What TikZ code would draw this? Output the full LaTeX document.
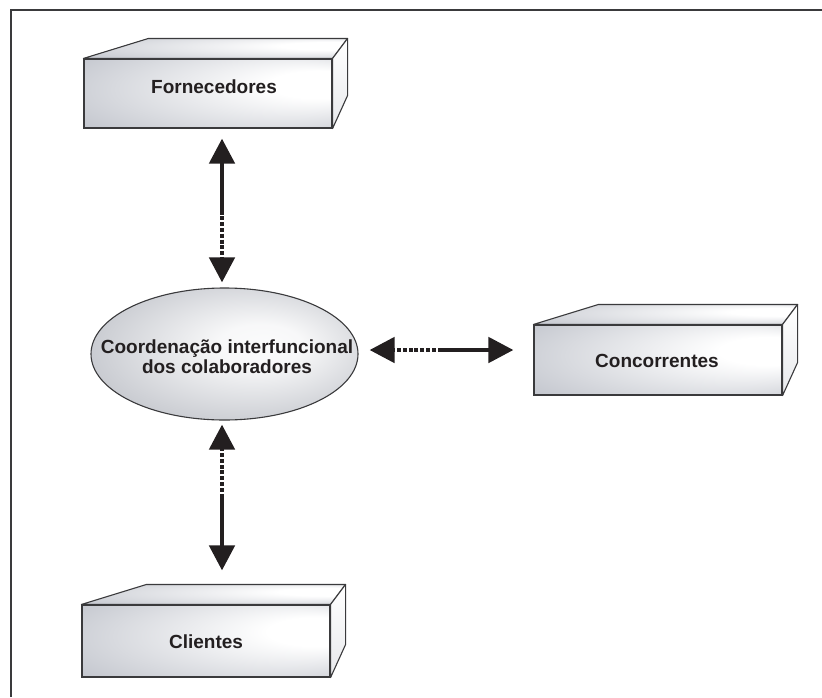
\documentclass[tikz,border=0pt]{standalone}
\usepackage{fontspec}
\setmainfont{Liberation Sans}
\usetikzlibrary{arrows.meta,shapes.geometric,calc}

\definecolor{ink}{HTML}{231F20}
\definecolor{edge}{HTML}{3A3A3C}
\definecolor{boxgray}{RGB}{176,180,190}
\definecolor{ellgray}{RGB}{160,164,174}

% light falling from the right onto the slab faces
\pgfdeclareradialshading{facelit}{\pgfpoint{28bp}{8bp}}{%
  color(0bp)=(white); color(10bp)=(white);
  color(30bp)=(boxgray!50!white); color(50bp)=(boxgray)}
% soft highlight in the middle of the ellipse
\pgfdeclareradialshading{ellipselit}{\pgfpoint{8bp}{4bp}}{%
  color(0bp)=(white!96!ellgray); color(8bp)=(white!92!ellgray);
  color(28bp)=(ellgray!55!white); color(50bp)=(ellgray)}

\tikzset{
  frameline/.style={draw=edge, line width=1.2pt},
  slabface/.style={rectangle, draw=edge, line width=1.1pt, shade, shading=facelit,
    minimum width=248pt, inner sep=0pt},
  slabtop/.style={draw=edge, line width=1.1pt, shade, shading=facelit, line join=round},
  slabside/.style={draw=edge, line width=1.1pt, top color=white, bottom color=boxgray!30!white,
    line join=round},
  hub/.style={ellipse, draw=edge, line width=1.1pt, shade, shading=ellipselit,
    minimum width=267pt, minimum height=132pt, inner sep=0pt},
  labeltext/.style={text=ink, font=\fontsize{19}{20}\selectfont\bfseries, inner sep=0pt,
    align=center},
  solidlink/.style={draw=ink, line width=4.7pt, -{Triangle[width=25pt,length=25pt]}},
  dottedlink/.style={solidlink, dash pattern=on 4pt off 1.8pt},
}

% a slab drawn in perspective: front face node, top face and right side face
\newcommand{\slab}[3]{% name, front-face centre, front-face height
  \node[slabface, minimum height=#3] (#1) at (#2) {};
  \shade[slabtop] (#1.north west) -- ++(65,-20) -- ($(#1.north east)+(15,-20)$)
    -- (#1.north east) -- cycle;
  \shade[slabside] (#1.north east) -- ++(15,-20) -- ($(#1.south east)+(15,-33)$)
    -- (#1.south east) -- cycle;
}

\begin{document}
\begin{tikzpicture}[x=1pt, y=-1pt]
  \useasboundingbox (0,0) rectangle (822,697);

  % page frame
  \draw[frameline] (11,697) -- (11,10) -- (822,10);

  % the three partners
  \slab{forn}{208,93.5}{69pt}
  \slab{conc}{658,360}{70pt}
  \slab{cli}{206,641}{72pt}
  \node[labeltext] (forn-label) at (214,87) {Fornecedores};
  \node[labeltext] (conc-label) at (657,361) {Concorrentes};
  \node[labeltext] (cli-label) at (206,642) {Clientes};

  % central coordination
  \node[hub] (ell) at (224.5,354) {};
  \node[labeltext] (ell-label) at (227,357)
    {Coordenação interfuncional\\dos colaboradores};

  % arrow end points next to the shapes
  \coordinate (fornTip) at ($(ell.north |- forn.south)+(-2.5,10)$);
  \coordinate (ellTopTip) at ($(ell.north)+(-2.5,-5)$);
  \coordinate (ellBotTip) at ($(ell.south)+(-2.5,4)$);
  \coordinate (cliTip) at ($(ell.south |- cli.north)+(-2.5,-34)$);
  \coordinate (ellRightTip) at ($(ell.east)+(11,-4)$);
  \coordinate (concTip) at ($(conc.west |- ell.east)+(-20,-4)$);

  \coordinate (m1) at ($(fornTip)!0.5!(ellTopTip)$);
  \coordinate (m2) at ($(ellBotTip)!0.5!(cliTip)$);
  \coordinate (m3) at ($(ellRightTip)!0.5!(concTip)$);

  % links: solid half on the partner side, dotted half on the hub side
  \draw[solidlink] (m1) -- (fornTip);
  \draw[dottedlink] (m1) -- (ellTopTip);
  \draw[solidlink] (m2) -- (cliTip);
  \draw[dottedlink] (m2) -- (ellBotTip);
  \draw[solidlink] (m3) -- (concTip);
  \draw[dottedlink] (m3) -- (ellRightTip);
\end{tikzpicture}
\end{document}
